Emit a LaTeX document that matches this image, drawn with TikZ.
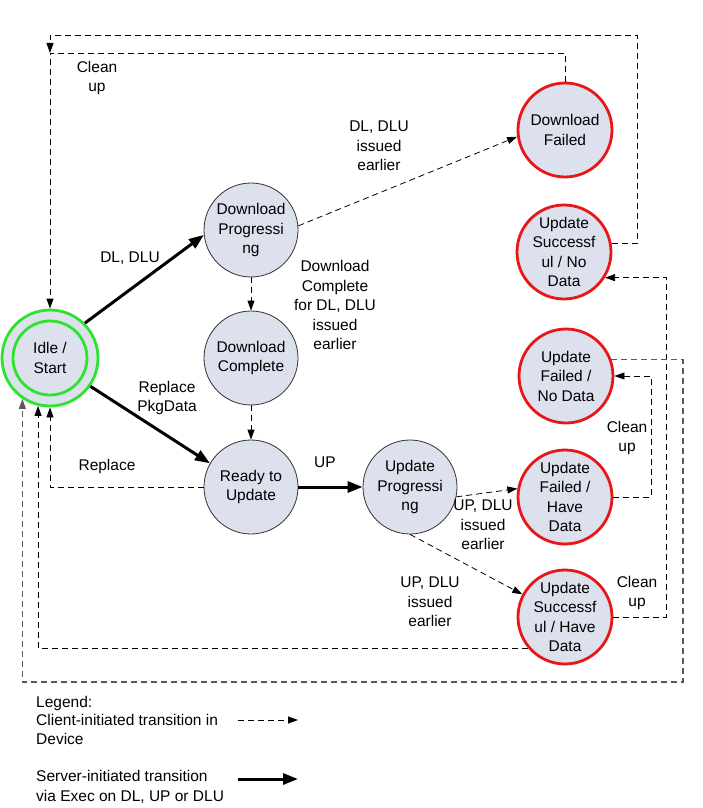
\documentclass[tikz,border=0pt]{standalone}
\usepackage{fontspec}
\setmainfont{Liberation Sans}
\usetikzlibrary{arrows.meta}
\definecolor{cfill}{RGB}{221,225,238}
\definecolor{cred}{RGB}{232,22,22}
\definecolor{cgreen}{RGB}{44,228,44}
\begin{document}
\begin{tikzpicture}[x=1pt,y=-1pt,
  font=\fontsize{15.5}{19.5}\selectfont,
  state/.style={circle, minimum size=94pt, inner sep=0pt, align=center, fill=cfill},
  gstate/.style={state, draw=black!80, line width=0.8pt},
  rstate/.style={state, draw=cred, line width=2.8pt},
  cli/.style={draw, line width=0.8pt, dash pattern=on 6pt off 4pt, -{Triangle[length=10pt,width=7pt]}},
  srv/.style={draw, line width=3pt, -{Triangle[length=15pt,width=11pt]}},
  lbl/.style={align=center, inner sep=0pt},
]
\useasboundingbox (0,0) rectangle (702,808);

% states
\node[state, draw=cgreen, line width=2.8pt, minimum size=96pt] (idle) at (50,358) {Idle /\\Start};
\draw[cgreen, line width=2.8pt] (idle.center) circle[radius=37pt];
\node[gstate] (dp) at (251,230) {Download\\Progressi\\ng};
\node[gstate] (dc) at (251,358) {Download\\Complete};
\node[gstate] (ru) at (251,487) {Ready to\\Update};
\node[gstate] (up) at (410,487) {Update\\Progressi\\ng};
\node[rstate] (df) at (565,130) {Download\\Failed};
\node[rstate] (usnd) at (564,252) {Update\\Successf\\ul / No\\Data};
\node[rstate] (ufnd) at (566,376) {Update\\Failed /\\No Data};
\node[rstate] (ufhd) at (565,497) {Update\\Failed /\\Have\\Data};
\node[rstate] (ushd) at (565,617) {Update\\Successf\\ul / Have\\Data};

% server-initiated transitions
\draw[srv] (idle.45) -- (dp.186);
\draw[srv] (idle.-35) -- (ru.150);
\draw[srv] (ru.east) -- (up.west);

% client-initiated transitions
\draw[cli] (dp.south) -- (dc.north);
\draw[cli] (dc.south) -- (ru.north);
\draw[cli] (dp.5) -- (df.188);
\draw[cli] (up.-12) -- (ufhd.170);
\draw[cli] (up.-90) -- (ushd.152);
\draw[cli] (ru.west) -| (idle.south);
\draw[cli] (ushd.-140) -| (idle.-104);
\draw[cli] (ufhd.east) -- ++(38,0) |- (ufnd.east);
\draw[cli] (ushd.east) -- ++(53,0) |- (usnd.-32);
\coordinate (tr) at (637,35);
\coordinate (tj) at (50,53);
\draw[cli] (usnd.10) -| (tr) -| (tj);
\draw[cli] (df.north) |- (tj) -- (idle.north);
\coordinate (br) at (683,682);
\draw[cli, line width=1.5pt, draw=black!65] (ufnd.20) -| (br) -| (idle.-124);

% labels
\node[lbl] (l1) at (97,78) {Clean\\up};
\node[lbl] (l2) at (379,146) {DL, DLU\\issued\\earlier};
\node[lbl] (l3) at (335,305) {Download\\Complete\\for DL, DLU\\issued\\earlier};
\node[lbl] (l4) at (130,258) {DL, DLU};
\node[lbl] (l5) at (167,398) {Replace\\PkgData};
\node[lbl] (l6) at (107,466) {Replace};
\node[lbl] (l7) at (325,462) {UP};
\node[lbl] (l8) at (483,525) {UP, DLU\\issued\\earlier};
\node[lbl] (l9) at (430,602) {UP, DLU\\issued\\earlier};
\node[lbl] (l10) at (627,438) {Clean\\up};
\node[lbl] (l11) at (637,593) {Clean\\up};

% legend
\node[lbl, align=left, anchor=west, font=\fontsize{15.5}{18.5}\selectfont] (leg1) at (36,720) {Legend:\\Client-initiated transition in\\Device};
\node[lbl, align=left, anchor=west] (leg2) at (36,787) {Server-initiated transition\\via Exec on DL, UP or DLU};
\coordinate (la1) at (238,720);
\coordinate (lb1) at (298,720);
\coordinate (la2) at (238,779);
\coordinate (lb2) at (298,779);
\draw[cli] (la1) -- (lb1);
\draw[srv] (la2) -- (lb2);
\end{tikzpicture}
\end{document}
